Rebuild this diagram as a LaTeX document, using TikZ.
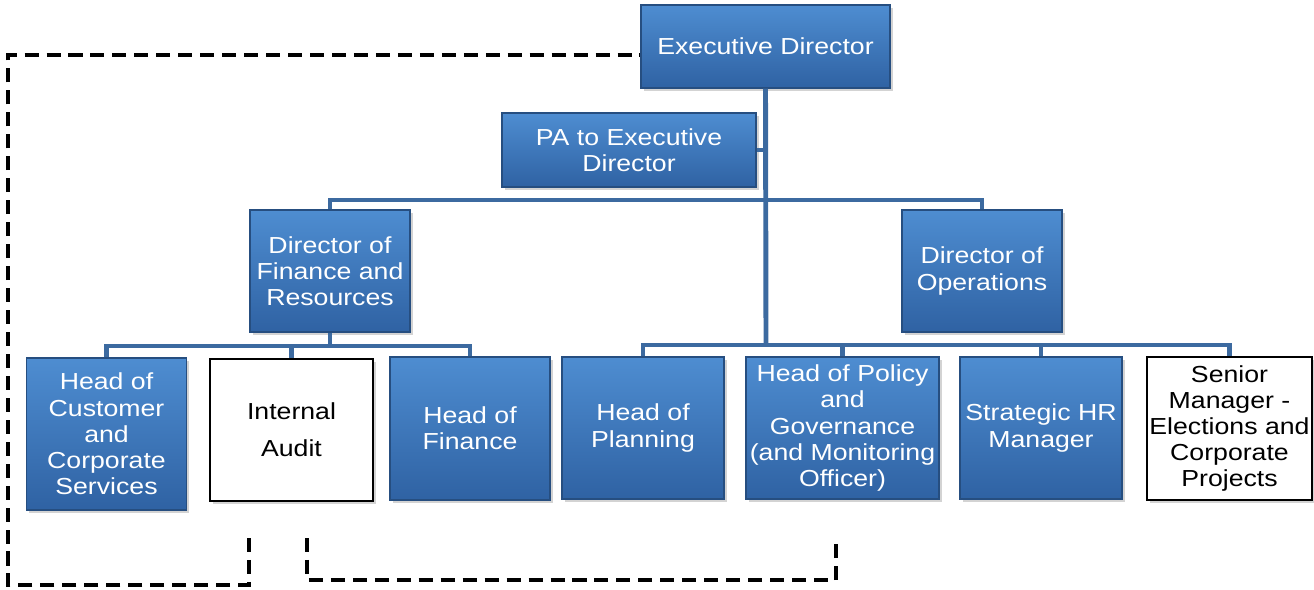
\documentclass[tikz,border=0pt]{standalone}
\usepackage{fontspec}
\setmainfont{Liberation Sans}[FakeStretch=1.15]
\usetikzlibrary{shadows}
\definecolor{boxtop}{RGB}{78,141,209}
\definecolor{boxbot}{RGB}{47,98,163}
\definecolor{boxedge}{RGB}{38,78,128}
\definecolor{linkclr}{RGB}{60,106,160}

\begin{document}
\begin{tikzpicture}[x=0.02cm, y=-0.02cm,
    post/.style={draw=boxedge, line width=0.8pt, top color=boxtop, bottom color=boxbot,
        text=white, align=center, inner sep=1pt, font=\fontsize{13.2}{14.9}\selectfont,
        drop shadow={shadow xshift=1.5pt, shadow yshift=-1.5pt, opacity=0.35}},
    whitepost/.style={post, draw=black, line width=1.2pt, top color=white, bottom color=white, text=black},
    link/.style={draw=linkclr, line width=2.8pt},
    dashlink/.style={draw=black, line width=2.4pt, dash pattern=on 8pt off 4.5pt}]
    \useasboundingbox (0,0) rectangle (1314,589);

    % top of the tree
    \node[post, minimum width=4.98cm, minimum height=1.66cm] (exec) at (765.5,46.5) {Executive Director};
    \node[post, minimum width=5.08cm, minimum height=1.48cm] (pa) at (629,150) {PA to Executive\\Director};
    \node[post, minimum width=3.2cm, minimum height=2.44cm] (dfr) at (330,271) {Director of\\Finance and\\Resources};
    \node[post, minimum width=3.2cm, minimum height=2.44cm] (dops) at (982,271) {Director of\\Operations};

    % bottom row
    \node[post, minimum width=3.2cm, minimum height=3.04cm] (customer) at (106.5,434) {Head of\\Customer\\and\\Corporate\\Services};
    \node[whitepost, minimum width=3.26cm, minimum height=2.84cm] (audit) at (291.5,430) {Internal\\[6pt]Audit};
    \node[post, minimum width=3.2cm, minimum height=2.86cm] (finance) at (470,428.5) {Head of\\Finance};
    \node[post, minimum width=3.24cm, minimum height=2.84cm] (planning) at (643,428) {Head of\\Planning};
    \node[post, minimum width=3.86cm, minimum height=2.84cm] (policy) at (842.5,428) {Head of Policy\\and\\Governance\\(and Monitoring\\Officer)};
    \node[post, minimum width=3.24cm, minimum height=2.84cm] (hr) at (1041,428) {Strategic HR\\Manager};
    \node[whitepost, minimum width=3.3cm, minimum height=2.86cm] (senior) at (1229.5,428.5) {Senior\\Manager -\\Elections and\\Corporate\\Projects};

    % solid reporting lines
    \coordinate (topbus) at (766,200);
    \coordinate (leftbus) at (330,346);
    \coordinate (rightbus) at (766,345);
    \draw[link] (exec.south) -- (rightbus);
    \draw[link] (pa.east) -- (pa.east -| exec.south);
    \draw[link] (dfr.north) |- (topbus) -| (dops.north);
    \draw[link] (dfr.south) -- (leftbus);
    \draw[link] (customer.north) |- (leftbus) -| (finance.north);
    \draw[link] (audit.north) -- (audit.north |- leftbus);
    \draw[link] (planning.north) |- (rightbus) -| (senior.north);
    \foreach \n in {policy,hr} {
        \draw[link] (\n.north) -- (\n.north |- rightbus);
    }

    % dashed lines
    \coordinate (auditL) at (249,538);
    \coordinate (auditR) at (307,538);
    \coordinate (policyB) at (836,538);
    \draw[dashlink] (auditL) |- (8,585) -- (8,55) -- (exec.west |- 0,55);
    \draw[dashlink] (auditR) |- (580,580) -| (policyB);
\end{tikzpicture}
\end{document}
